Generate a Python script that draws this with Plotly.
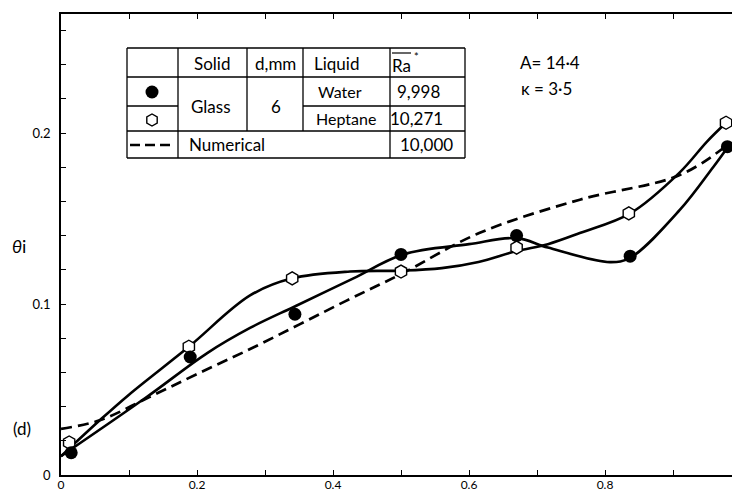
import plotly.graph_objects as go

# ---------------- data ----------------
water_x = [0.015, 0.19, 0.344, 0.50, 0.67, 0.837, 0.98]
water_y = [0.013, 0.069, 0.094, 0.129, 0.140, 0.128, 0.192]

heptane_x = [0.012, 0.188, 0.34, 0.50, 0.67, 0.835, 0.978]
heptane_y = [0.019, 0.075, 0.115, 0.119, 0.133, 0.153, 0.206]

water_fit_x = [0.0, 0.126, 0.215, 0.278, 0.346, 0.43, 0.503, 0.60, 0.67, 0.716, 0.807, 0.837, 0.91, 0.959, 0.981]
water_fit_y = [0.011, 0.0456, 0.0713, 0.086, 0.099, 0.115, 0.129, 0.135, 0.1385, 0.133, 0.1245, 0.127, 0.155, 0.180, 0.192]

heptane_fit_x = [0.0, 0.057, 0.10, 0.188, 0.278, 0.34, 0.425, 0.50, 0.56, 0.614, 0.67, 0.716, 0.763, 0.837, 0.91, 0.95, 0.978]
heptane_fit_y = [0.011, 0.032, 0.047, 0.075, 0.105, 0.115, 0.119, 0.1195, 0.121, 0.1246, 0.131, 0.135, 0.1415, 0.153, 0.177, 0.195, 0.206]

numerical_x = [0.0, 0.057, 0.13, 0.20, 0.285, 0.42, 0.50, 0.615, 0.763, 0.91, 0.98]
numerical_y = [0.027, 0.032, 0.0456, 0.059, 0.075, 0.102, 0.1175, 0.1415, 0.161, 0.1754, 0.193]

x_tickvals = [0.0, 0.1, 0.2, 0.3, 0.4, 0.5, 0.6, 0.7, 0.8, 0.9]
x_ticktext = ["0", "", "0.2", "", "0.4", "", "0.6", "", "0.8", ""]
y_tickvals = [0.0, 0.02, 0.04, 0.06, 0.08, 0.1, 0.12, 0.14, 0.16, 0.18, 0.2, 0.22, 0.24, 0.26]
y_ticktext = ["0", "", "", "", "", "0.1", "", "", "", "", "0.2", "", "", ""]

table_header = ["Solid", "d,mm", "Liquid", "Ra"]
solid_name = "Glass"
diameter = "6"
liquids = ["Water", "Heptane"]
ra_values = ["9,998", "10,271", "10,000"]
numerical_label = "Numerical"
params = ["A= 14·4", "κ = 3·5"]

# ---------------- figure ----------------
W, H = 732, 492
ML, MR, MT, MB = 61, 0, 14, 17
PW, PH = W - ML - MR, H - MT - MB
FONT = "Lato"


def px(x):
    return (x - ML) / PW


def py(y):
    return (H - MB - y) / PH


fig = go.Figure()

fig.add_trace(go.Scatter(x=numerical_x, y=numerical_y, mode="lines",
                         line=dict(color="black", width=2.7, dash="11px,6px", shape="spline"),
                         showlegend=False, hoverinfo="skip"))
fig.add_trace(go.Scatter(x=water_fit_x, y=water_fit_y, mode="lines",
                         line=dict(color="black", width=2.6, shape="spline"),
                         showlegend=False, hoverinfo="skip"))
fig.add_trace(go.Scatter(x=heptane_fit_x, y=heptane_fit_y, mode="lines",
                         line=dict(color="black", width=2.6, shape="spline"),
                         showlegend=False, hoverinfo="skip"))
fig.add_trace(go.Scatter(x=heptane_x, y=heptane_y, mode="markers",
                         marker=dict(symbol="hexagon", size=13, color="white",
                                     line=dict(color="black", width=1.4)),
                         showlegend=False))
fig.add_trace(go.Scatter(x=water_x, y=water_y, mode="markers",
                         marker=dict(symbol="circle", size=13, color="black"),
                         showlegend=False))

shapes = []
annotations = []

# legend table lines (pixel layout)
LW = 1.3
def hline(x0, x1, y):
    shapes.append(dict(type="line", xref="paper", yref="paper", x0=px(x0), x1=px(x1),
                       y0=py(y), y1=py(y), line=dict(color="black", width=LW)))

def vline(x, y0, y1):
    shapes.append(dict(type="line", xref="paper", yref="paper", x0=px(x), x1=px(x),
                       y0=py(y0), y1=py(y1), line=dict(color="black", width=LW)))

c0, c1, c2, c3, c4, c5 = 127, 178, 247, 303, 390, 465
r0, r1, r2, r3, r4 = 48, 77, 106, 131, 158
hline(c0, c5, r0)
hline(c0, c5, r1)
hline(c0, c1, r2)
hline(c3, c5, r2)
hline(c0, c5, r3)
hline(c0, c5, r4)
vline(c0, r0, r4)
vline(c1, r0, r4)
vline(c2, r0, r3)
vline(c3, r0, r3)
vline(c4, r0, r4)
vline(c5, r0, r4)
# overline of Ra
shapes.append(dict(type="line", xref="paper", yref="paper", x0=px(392), x1=px(411),
                   y0=py(53), y1=py(53), line=dict(color="black", width=1.2)))
# dashed legend sample
shapes.append(dict(type="line", xref="paper", yref="paper", x0=px(130), x1=px(175),
                   y0=py(145), y1=py(145), line=dict(color="black", width=2.7, dash="10px,5px")))

def text(t, x, y, size=17, xanchor="center", family=FONT):
    annotations.append(dict(text=t, x=px(x), y=py(y), xref="paper", yref="paper",
                            xanchor=xanchor, yanchor="middle", showarrow=False,
                            font=dict(family=family, size=size, color="black")))

text(table_header[0], 212, 64)
text(table_header[1], 275, 64)
text(table_header[2], 336, 64)
text(table_header[3], 401, 65, xanchor="center")
text("*", 416, 56, size=11)
text(solid_name, 211, 106)
text(diameter, 276, 106)
text(liquids[0], 340, 91, size=16)
text(liquids[1], 346, 118, size=16)
text(ra_values[0], 418, 91)
text(ra_values[1], 416, 118)
text(numerical_label, 187, 145, xanchor="left")
text(ra_values[2], 426, 145)
text(params[0], 518, 62, xanchor="left")
text(params[1], 519, 88, xanchor="left")
text("<i>θ</i>i", 19, 246, size=18)
text("(d)", 22, 428, size=17)

# legend table markers
fig.add_trace(go.Scatter(x=[px(152)], y=[py(92)], xaxis="x2", yaxis="y2", mode="markers",
                         marker=dict(symbol="circle", size=13, color="black"),
                         showlegend=False, hoverinfo="skip"))
fig.add_trace(go.Scatter(x=[px(152)], y=[py(120)], xaxis="x2", yaxis="y2", mode="markers",
                         marker=dict(symbol="hexagon", size=12, color="white",
                                     line=dict(color="black", width=1.4)),
                         showlegend=False, hoverinfo="skip"))

fig.update_layout(
    width=W, height=H,
    margin=dict(l=ML, r=MR, t=MT, b=MB, pad=0),
    paper_bgcolor="white", plot_bgcolor="white",
    font=dict(family=FONT, color="black"),
    shapes=shapes, annotations=annotations,
    showlegend=False,
    xaxis=dict(range=[0, (W - ML) / 680], tickvals=x_tickvals, ticktext=x_ticktext,
               ticks="inside", ticklen=5, tickwidth=1.2, tickcolor="black",
               showline=True, linecolor="black", linewidth=1.6, mirror="ticks",
               showgrid=False, zeroline=False, automargin=False,
               tickfont=dict(size=12, family=FONT), ticklabelstandoff=-2),
    yaxis=dict(range=[0, 0.2696], tickvals=y_tickvals, ticktext=y_ticktext,
               ticks="inside", ticklen=5, tickwidth=1.2, tickcolor="black",
               showline=True, linecolor="black", linewidth=1.6,
               showgrid=False, zeroline=False, automargin=False,
               tickfont=dict(size=13, family=FONT), ticklabelstandoff=6),
    xaxis2=dict(range=[0, 1], overlaying="x", visible=False, domain=[0, 1]),
    yaxis2=dict(range=[0, 1], overlaying="y", visible=False, domain=[0, 1]),
)

fig.write_html("out.html")
